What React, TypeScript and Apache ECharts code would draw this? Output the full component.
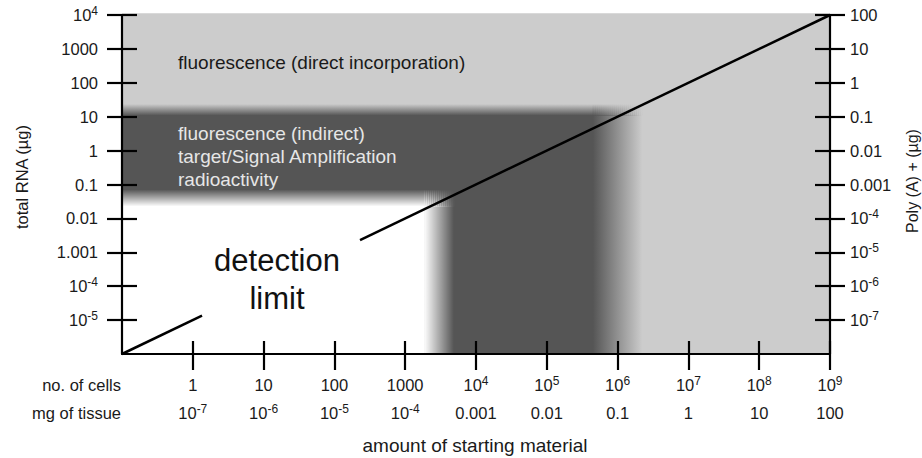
import React, { useEffect, useRef } from 'react';
import * as echarts from 'echarts';

// ---- axes (values in real units; drawn on log10 scales) ----
const cellsRange = [0.1, 1e9];
const totalRnaRange = [1e-6, 1e4];
const polyARange = [1e-8, 100];

const cellTicks = [1, 10, 100, 1000, 1e4, 1e5, 1e6, 1e7, 1e8, 1e9];
const cellLabels = ['1', '10', '100', '1000', '10^4', '10^5', '10^6', '10^7', '10^8', '10^9'];
const tissueLabels = ['10^-7', '10^-6', '10^-5', '10^-4', '0.001', '0.01', '0.1', '1', '10', '100'];

const totalRnaTicks = [1e-5, 1e-4, 1e-3, 1e-2, 0.1, 1, 10, 100, 1000, 1e4];
const totalRnaLabels = ['10^-5', '10^-4', '1.001', '0.01', '0.1', '1', '10', '100', '1000', '10^4'];

const polyATicks = [1e-7, 1e-6, 1e-5, 1e-4, 1e-3, 1e-2, 0.1, 1, 10, 100];
const polyALabels = ['10^-7', '10^-6', '10^-5', '10^-4', '0.001', '0.01', '0.1', '1', '10', '100'];

// ---- method regions (edges in cells / µg total RNA) ----
const amplificationMaxRna = 16; // top of dark band (µg)
const amplificationMaxCells = 1e6; // right edge of dark region (cells)
const directMinCellsWindow = 3000; // right edge of white (undetectable) corner
const undetectableMaxRna = 0.04; // top edge of white corner (µg)

// ---- detection limit line: 10 pg total RNA per cell, broken by its label ----
const limitSegmentA = [[0.1, 1e-6], [1.35, 1.35e-5]];
const limitSegmentB = [[230, 2.3e-3], [1e9, 1e4]];

const FONT = '"Liberation Sans", Arial, Helvetica, sans-serif';
const INK = '#1a1a1a';
const LIGHT = '#cccccc';
const DARK_RGB = '85,85,85';
const WHITE_RGB = '255,255,255';

const lg = Math.log10;

function richLabel(label: string) {
  const i = label.indexOf('^');
  if (i < 0) return `{b|${label}}`;
  return `{b|${label.slice(0, i)}}{s|${label.slice(i + 1)}}`;
}

function makeFormatter(ticks: number[], labels: string[]) {
  return (v: number) => {
    const i = ticks.findIndex((t) => Math.abs(lg(t) - v) < 1e-6);
    return i < 0 ? '' : richLabel(labels[i]);
  };
}

const rich = {
  b: { fontSize: 16.5, lineHeight: 20, fontFamily: FONT, color: INK },
  s: { fontSize: 12, lineHeight: 12, verticalAlign: 'top', fontFamily: FONT, color: INK },
};

const fade = (x: number, y: number, x2: number, y2: number, rgb: string, a = 1) => ({
  type: 'linear', x, y, x2, y2,
  colorStops: [
    { offset: 0, color: `rgba(${rgb},${a})` },
    { offset: 1, color: `rgba(${rgb},0)` },
  ],
});

// fill kinds: 0 light, 1 dark solid, 2 dark fade right, 3 dark fade up, 4 dark corner,
// 5 white solid, 6 white fade right, 7 white fade up, 8 white corner
const KIND_RGB = ['', DARK_RGB, DARK_RGB, DARK_RGB, DARK_RGB, WHITE_RGB, WHITE_RGB, WHITE_RGB, WHITE_RGB];

function buildRegions() {
  const x0 = lg(cellsRange[0]);
  const y0 = lg(totalRnaRange[0]);
  const xTop = lg(cellsRange[1]);
  const yTop = lg(totalRnaRange[1]) + 0.05;
  const dR = lg(amplificationMaxCells), dRf = 0.35;
  const dT = lg(amplificationMaxRna), dTf = 0.17;
  const wR = lg(directMinCellsWindow), wRf = 0.21;
  const wT = lg(undetectableMaxRna), wTf = 0.25;
  return [
    [x0, y0, xTop, yTop, 0],
    [x0, y0, dR - dRf, dT - dTf, 1],
    [dR - dRf, y0, dR + dRf, dT - dTf, 2],
    [x0, dT - dTf, dR - dRf, dT + dTf, 3],
    [dR - dRf, dT - dTf, dR + dRf, dT + dTf, 4],
    [x0, y0, wR - wRf, wT - wTf, 5],
    [wR - wRf, y0, wR + wRf, wT - wTf, 6],
    [x0, wT - wTf, wR - wRf, wT + wTf, 7],
    [wR - wRf, wT - wTf, wR + wRf, wT + wTf, 8],
  ];
}

export default function App() {
  const ref = useRef<HTMLDivElement>(null);

  useEffect(() => {
    if (!ref.current) return;
    const chart = echarts.init(ref.current, undefined, { renderer: 'svg' });

    const axisLine = { color: '#000', width: 2.2 };
    const xMin = lg(cellsRange[0]);
    const xMax = lg(cellsRange[1]);
    const xTickVals = cellTicks.map(lg);
    const yMin = lg(totalRnaRange[0]);
    const yMax = lg(totalRnaRange[1]);
    const yTickVals = totalRnaTicks.map(lg);
    const pMin = lg(polyARange[0]);
    const pMax = lg(polyARange[1]);
    const pTickVals = polyATicks.map(lg);

    const baseValueAxis = {
      type: 'value',
      interval: 1,
      z: 6,
      splitLine: { show: false },
      axisPointer: { show: false },
    };

    const renderRegion = (params: any, api: any) => {
      const p0 = api.coord([api.value(0), api.value(1)]);
      const p1 = api.coord([api.value(2), api.value(3)]);
      const kind = api.value(4);
      const x = Math.min(p0[0], p1[0]);
      const y = Math.min(p0[1], p1[1]);
      const w = Math.abs(p1[0] - p0[0]);
      const h = Math.abs(p1[1] - p0[1]);
      const rgb = KIND_RGB[kind];
      if (kind === 0) {
        return { type: 'rect', shape: { x, y, width: w, height: h }, style: { fill: LIGHT } };
      }
      if (kind === 1 || kind === 5) {
        return {
          type: 'rect',
          shape: { x: x - 0.5, y: y - 0.5, width: w + 1, height: h + 1 },
          style: { fill: `rgb(${rgb})` },
        };
      }
      if (kind === 2 || kind === 6) {
        return {
          type: 'rect',
          shape: { x, y: y - 0.5, width: w, height: h + 1 },
          style: { fill: fade(0, 0, 1, 0, rgb) },
        };
      }
      if (kind === 3 || kind === 7) {
        return {
          type: 'rect',
          shape: { x: x - 0.5, y, width: w + 1, height: h },
          style: { fill: fade(0, 1, 0, 0, rgb) },
        };
      }
      // corner: vertical slices whose opacity drops left-to-right (product of both fades)
      const n = Math.max(6, Math.round(w / 2));
      const sw = w / n;
      const children: any[] = [];
      for (let i = 0; i < n; i++) {
        const a = 1 - (i + 0.5) / n;
        children.push({
          type: 'rect',
          shape: { x: x + i * sw, y, width: sw + 0.6, height: h },
          style: { fill: fade(0, 1, 0, 0, rgb, a) },
        });
      }
      return { type: 'group', children };
    };

    const option: any = {
      animation: false,
      backgroundColor: '#ffffff',
      grid: { left: 122, right: 92, top: 15, bottom: 104, containLabel: false, outerBoundsMode: 'none' },
      xAxis: [
        {
          ...baseValueAxis, min: xMin, max: xMax, position: 'bottom',
          axisLine: { show: true, onZero: false, lineStyle: axisLine },
          axisTick: { show: true, inside: false, length: 16, lineStyle: axisLine, customValues: xTickVals },
          axisLabel: { show: true, margin: 21, customValues: xTickVals, formatter: makeFormatter(cellTicks, cellLabels), rich },
        },
        {
          ...baseValueAxis, min: xMin, max: xMax, position: 'bottom',
          axisLine: { show: false, onZero: false },
          axisTick: { show: true, inside: true, length: 13, lineStyle: axisLine, customValues: xTickVals },
          axisLabel: { show: true, margin: 49, customValues: xTickVals, formatter: makeFormatter(cellTicks, tissueLabels), rich },
        },
      ],
      yAxis: [
        {
          ...baseValueAxis, min: yMin, max: yMax, position: 'left',
          axisLine: { show: true, onZero: false, lineStyle: axisLine },
          axisTick: { show: true, inside: false, length: 15, lineStyle: axisLine, customValues: yTickVals },
          axisLabel: { show: true, margin: 24, customValues: yTickVals, formatter: makeFormatter(totalRnaTicks, totalRnaLabels), rich },
        },
        {
          ...baseValueAxis, min: yMin, max: yMax, position: 'left',
          axisLine: { show: false, onZero: false },
          axisTick: { show: true, inside: true, length: 15, lineStyle: axisLine, customValues: yTickVals },
          axisLabel: { show: false },
        },
        {
          ...baseValueAxis, min: pMin, max: pMax, position: 'right',
          axisLine: { show: true, onZero: false, lineStyle: axisLine },
          axisTick: { show: true, inside: false, length: 15, lineStyle: axisLine, customValues: pTickVals },
          axisLabel: { show: true, margin: 20, customValues: pTickVals, formatter: makeFormatter(polyATicks, polyALabels), rich },
        },
        {
          ...baseValueAxis, min: pMin, max: pMax, position: 'right',
          axisLine: { show: false, onZero: false },
          axisTick: { show: true, inside: true, length: 15, lineStyle: axisLine, customValues: pTickVals },
          axisLabel: { show: false },
        },
      ],
      series: [
        {
          type: 'custom',
          xAxisIndex: 0,
          yAxisIndex: 0,
          z: 1,
          silent: true,
          clip: false,
          dimensions: ['x0', 'y0', 'x1', 'y1', 'fill'],
          encode: { x: [0, 2], y: [1, 3] },
          data: buildRegions(),
          renderItem: renderRegion,
        },
        {
          type: 'line',
          xAxisIndex: 0,
          yAxisIndex: 0,
          z: 4,
          silent: true,
          symbol: 'none',
          clip: false,
          lineStyle: { color: '#000', width: 2.5 },
          data: limitSegmentA.map(([c, r]) => [lg(c), lg(r)]),
        },
        {
          type: 'line',
          xAxisIndex: 0,
          yAxisIndex: 0,
          z: 4,
          silent: true,
          symbol: 'none',
          clip: false,
          lineStyle: { color: '#000', width: 2.5 },
          data: limitSegmentB.map(([c, r]) => [lg(c), lg(r)]),
        },
      ],
      graphic: [
        {
          type: 'text', x: 178, y: 62, z: 100, silent: true,
          style: { text: 'fluorescence (direct incorporation)', fontSize: 19, fontFamily: FONT, fill: INK, align: 'left', verticalAlign: 'middle' },
        },
        {
          type: 'text', x: 178, y: 156, z: 100, silent: true,
          style: {
            text: 'fluorescence (indirect)\ntarget/Signal Amplification\nradioactivity',
            fontSize: 19, lineHeight: 23, fontFamily: FONT, fill: '#e6e6e6', align: 'left', verticalAlign: 'middle',
          },
        },
        {
          type: 'text', x: 277, y: 279, z: 100, silent: true,
          style: { text: 'detection\nlimit', fontSize: 31, lineHeight: 38, fontFamily: FONT, fill: '#111', align: 'center', verticalAlign: 'middle' },
        },
        {
          type: 'text', x: 22, y: 177, rotation: Math.PI / 2, z: 100, silent: true,
          style: { text: 'total RNA (µg)', fontSize: 16.5, fontFamily: FONT, fill: INK, align: 'center', verticalAlign: 'middle' },
        },
        {
          type: 'text', x: 912, y: 181, rotation: Math.PI / 2, z: 100, silent: true,
          style: { text: 'Poly (A) + (µg)', fontSize: 16, fontFamily: FONT, fill: INK, align: 'center', verticalAlign: 'middle' },
        },
        {
          type: 'text', x: 121, y: 385, z: 100, silent: true,
          style: { text: 'no. of cells', fontSize: 16.5, fontFamily: FONT, fill: INK, align: 'right', verticalAlign: 'middle' },
        },
        {
          type: 'text', x: 121, y: 413, z: 100, silent: true,
          style: { text: 'mg of tissue', fontSize: 16.5, fontFamily: FONT, fill: INK, align: 'right', verticalAlign: 'middle' },
        },
        {
          type: 'text', x: 475, y: 445, z: 100, silent: true,
          style: { text: 'amount of starting material', fontSize: 19, fontFamily: FONT, fill: INK, align: 'center', verticalAlign: 'middle' },
        },
      ],
    };

    chart.setOption(option);
    return () => chart.dispose();
  }, []);

  return (
    <div
      ref={ref}
      style={{ position: 'absolute', left: 0, top: 0, width: 922, height: 458 }}
    />
  );
}
